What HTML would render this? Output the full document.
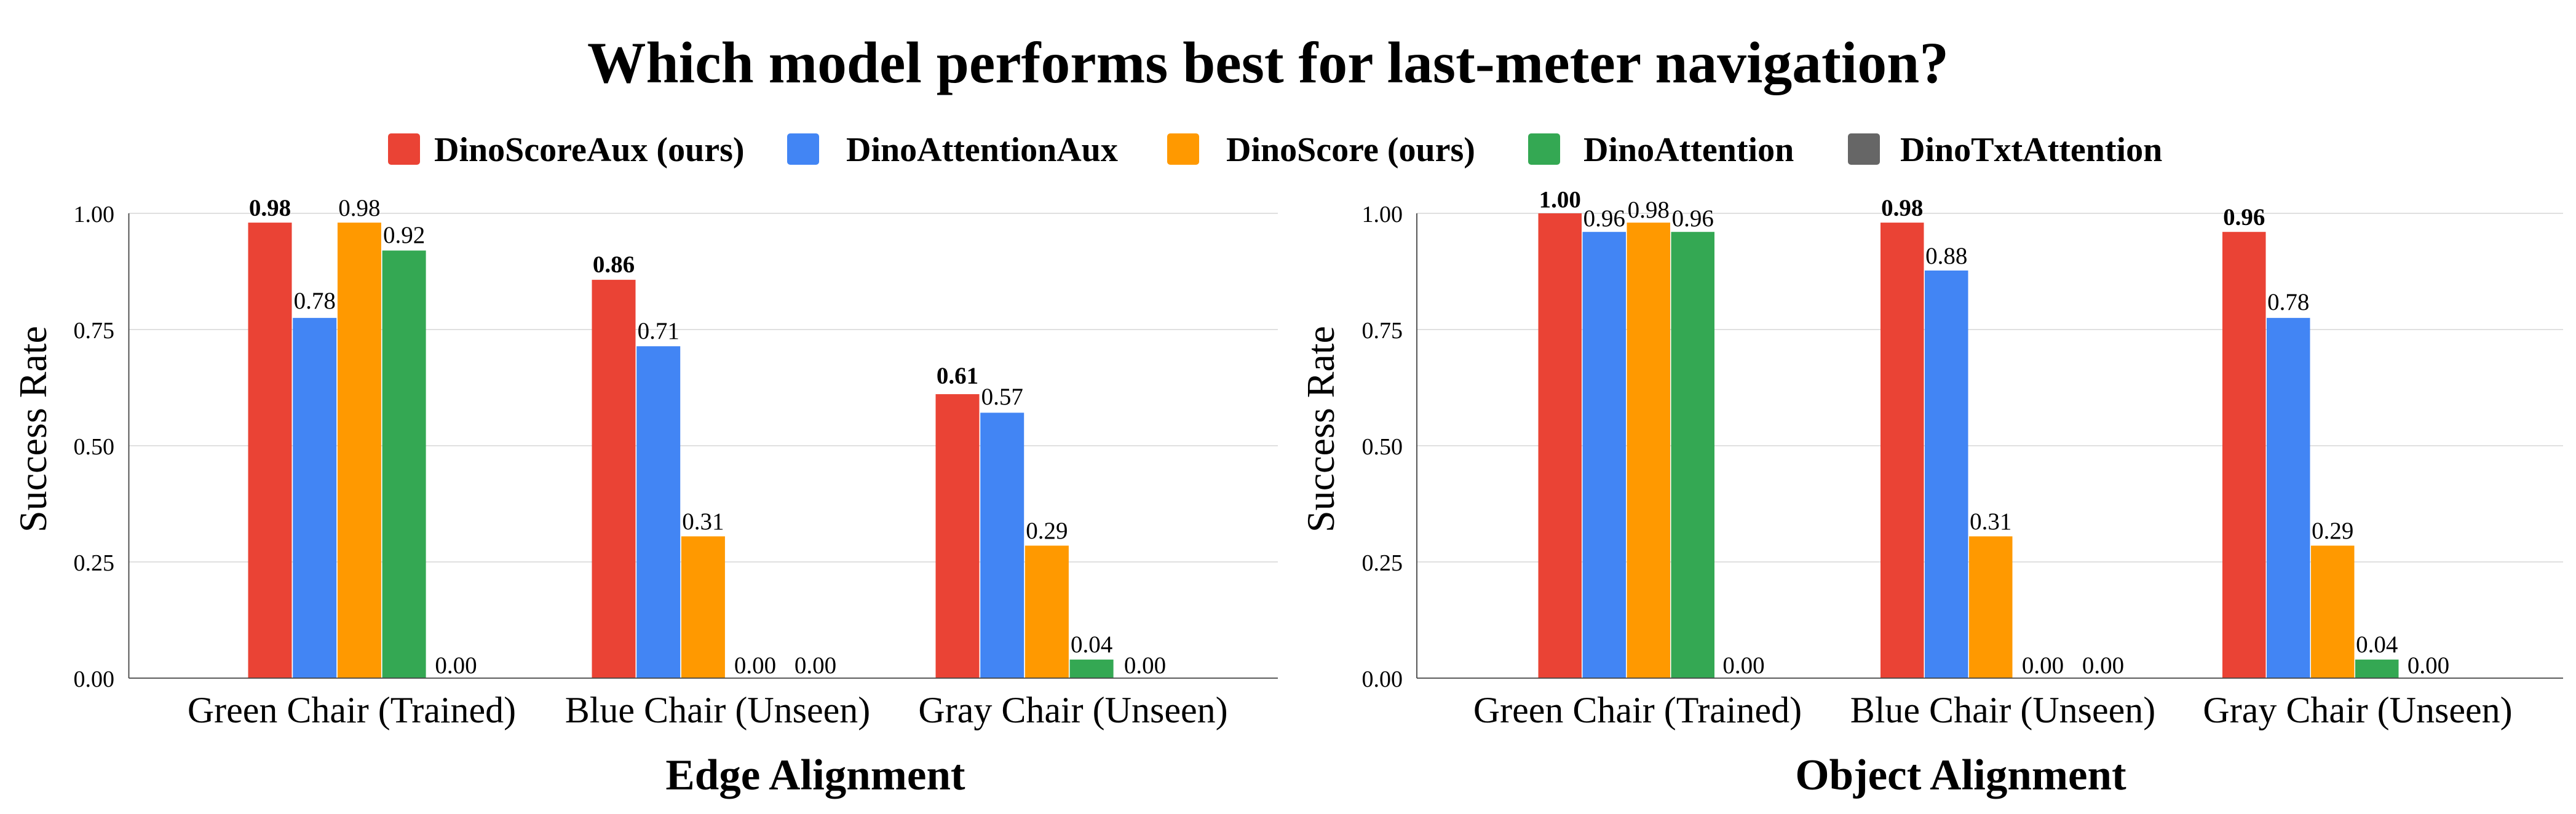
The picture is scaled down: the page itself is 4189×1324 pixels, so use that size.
<!DOCTYPE html>
<html>
<head>
<meta charset="utf-8">
<style>
  html,body{margin:0;padding:0;background:#fff;}
  body{width:4189px;height:1324px;overflow:hidden;}
  svg{display:block;}
  text{font-family:"Liberation Serif","Times New Roman",serif;fill:#000;}
  .tick{font-size:38px;text-anchor:end;}
  .dl{font-size:39px;text-anchor:middle;}
  .dlb{font-size:39px;text-anchor:middle;font-weight:bold;}
  .cat{font-size:60px;text-anchor:middle;}
  .axt{font-size:71px;text-anchor:middle;font-weight:bold;}
  .yt{font-size:64px;text-anchor:middle;}
  .leg{font-size:56px;font-weight:bold;}
  .grid{stroke:#d6d6d6;stroke-width:1.6;}
  .axis{stroke:#444;stroke-width:1.8;}
</style>
</head>
<body>
<svg width="4189" height="1324" viewBox="0 0 4189 1324" xmlns="http://www.w3.org/2000/svg">
  <rect x="0" y="0" width="4189" height="1324" fill="#fff"/>

  <!-- Title -->
  <text x="2062" y="134" style="font-size:95.5px;font-weight:bold;text-anchor:middle;">Which model performs best for last-meter navigation?</text>

  <!-- Legend -->
  <rect x="631" y="217" width="52" height="51" rx="5" fill="#EA4335"/>
  <text class="leg" x="706" y="262">DinoScoreAux (ours)</text>
  <rect x="1280" y="217" width="52" height="51" rx="5" fill="#4285F4"/>
  <text class="leg" x="1376" y="262">DinoAttentionAux</text>
  <rect x="1898" y="217" width="52" height="51" rx="5" fill="#FF9900"/>
  <text class="leg" x="1994" y="262">DinoScore (ours)</text>
  <rect x="2485" y="217" width="52" height="51" rx="5" fill="#34A853"/>
  <text class="leg" x="2575" y="262">DinoAttention</text>
  <rect x="3005" y="217" width="52" height="51" rx="5" fill="#666666"/>
  <text class="leg" x="3090" y="262">DinoTxtAttention</text>

  <!-- ================= LEFT CHART ================= -->
  <!-- gridlines -->
  <line class="grid" x1="209.5" y1="347" x2="2078" y2="347"/>
  <line class="grid" x1="209.5" y1="536" x2="2078" y2="536"/>
  <line class="grid" x1="209.5" y1="725" x2="2078" y2="725"/>
  <line class="grid" x1="209.5" y1="914" x2="2078" y2="914"/>
  <!-- tick labels -->
  <text class="tick" x="186" y="361">1.00</text>
  <text class="tick" x="186" y="550">0.75</text>
  <text class="tick" x="186" y="739">0.50</text>
  <text class="tick" x="186" y="928">0.25</text>
  <text class="tick" x="186" y="1117">0.00</text>
  <!-- y title -->
  <text class="yt" transform="translate(75,698) rotate(-90)">Success Rate</text>

  <!-- bars group 1 -->
  <rect x="403.5" y="362.1" width="71" height="740.9" fill="#EA4335"/>
  <rect x="476.2" y="517.1" width="71" height="585.9" fill="#4285F4"/>
  <rect x="548.9" y="362.1" width="71" height="740.9" fill="#FF9900"/>
  <rect x="621.6" y="407.5" width="71" height="695.5" fill="#34A853"/>
  <!-- bars group 2 -->
  <rect x="962.5" y="455.1" width="71" height="647.9" fill="#EA4335"/>
  <rect x="1035.2" y="563.2" width="71" height="539.8" fill="#4285F4"/>
  <rect x="1107.9" y="872.4" width="71" height="230.6" fill="#FF9900"/>
  <!-- bars group 3 -->
  <rect x="1521.5" y="641.1" width="71" height="461.9" fill="#EA4335"/>
  <rect x="1594.2" y="671.3" width="71" height="431.7" fill="#4285F4"/>
  <rect x="1666.9" y="887.5" width="71" height="215.5" fill="#FF9900"/>
  <rect x="1739.6" y="1072.8" width="71" height="30.2" fill="#34A853"/>

  <!-- axes -->
  <line class="axis" x1="209.5" y1="347" x2="209.5" y2="1103"/>
  <line class="axis" x1="209.5" y1="1103" x2="2078" y2="1103"/>

  <!-- data labels -->
  <text class="dlb" x="439" y="351">0.98</text>
  <text class="dl" x="511.7" y="502">0.78</text>
  <text class="dl" x="584.4" y="351">0.98</text>
  <text class="dl" x="657.1" y="395">0.92</text>
  <text class="dl" x="741.5" y="1095">0.00</text>

  <text class="dlb" x="998" y="443">0.86</text>
  <text class="dl" x="1070.7" y="551">0.71</text>
  <text class="dl" x="1143.4" y="861">0.31</text>
  <text class="dl" x="1228" y="1095">0.00</text>
  <text class="dl" x="1326" y="1095">0.00</text>

  <text class="dlb" x="1557" y="624">0.61</text>
  <text class="dl" x="1629.7" y="658">0.57</text>
  <text class="dl" x="1702.4" y="876">0.29</text>
  <text class="dl" x="1775.1" y="1061">0.04</text>
  <text class="dl" x="1862" y="1095">0.00</text>

  <!-- category labels -->
  <text class="cat" x="572" y="1175">Green Chair (Trained)</text>
  <text class="cat" x="1167" y="1175">Blue Chair (Unseen)</text>
  <text class="cat" x="1745" y="1175">Gray Chair (Unseen)</text>
  <!-- x title -->
  <text class="axt" x="1326" y="1284">Edge Alignment</text>

  <!-- ================= RIGHT CHART ================= -->
  <line class="grid" x1="2304" y1="347" x2="4168" y2="347"/>
  <line class="grid" x1="2304" y1="536" x2="4168" y2="536"/>
  <line class="grid" x1="2304" y1="725" x2="4168" y2="725"/>
  <line class="grid" x1="2304" y1="914" x2="4168" y2="914"/>
  <text class="tick" x="2281" y="361">1.00</text>
  <text class="tick" x="2281" y="550">0.75</text>
  <text class="tick" x="2281" y="739">0.50</text>
  <text class="tick" x="2281" y="928">0.25</text>
  <text class="tick" x="2281" y="1117">0.00</text>
  <text class="yt" transform="translate(2169,698) rotate(-90)">Success Rate</text>

  <!-- bars group 1 -->
  <rect x="2501.5" y="347" width="70.5" height="756" fill="#EA4335"/>
  <rect x="2573.5" y="377.2" width="70.5" height="725.8" fill="#4285F4"/>
  <rect x="2645.5" y="362.1" width="70.5" height="740.9" fill="#FF9900"/>
  <rect x="2717.5" y="377.2" width="70.5" height="725.8" fill="#34A853"/>
  <!-- bars group 2 -->
  <rect x="3058" y="362.1" width="70.5" height="740.9" fill="#EA4335"/>
  <rect x="3130" y="440" width="70.5" height="663" fill="#4285F4"/>
  <rect x="3202" y="872.4" width="70.5" height="230.6" fill="#FF9900"/>
  <!-- bars group 3 -->
  <rect x="3614" y="377.2" width="70.5" height="725.8" fill="#EA4335"/>
  <rect x="3686" y="517.1" width="70.5" height="585.9" fill="#4285F4"/>
  <rect x="3758" y="887.5" width="70.5" height="215.5" fill="#FF9900"/>
  <rect x="3830" y="1072.8" width="70.5" height="30.2" fill="#34A853"/>

  <line class="axis" x1="2304" y1="347" x2="2304" y2="1103"/>
  <line class="axis" x1="2304" y1="1103" x2="4168" y2="1103"/>

  <!-- data labels -->
  <text class="dlb" x="2536.75" y="337.5">1.00</text>
  <text class="dl" x="2608.75" y="368">0.96</text>
  <text class="dl" x="2680.75" y="354">0.98</text>
  <text class="dl" x="2752.75" y="368">0.96</text>
  <text class="dl" x="2835.5" y="1095">0.00</text>

  <text class="dlb" x="3093.25" y="351">0.98</text>
  <text class="dl" x="3165.25" y="429">0.88</text>
  <text class="dl" x="3237.25" y="861">0.31</text>
  <text class="dl" x="3322" y="1095">0.00</text>
  <text class="dl" x="3420" y="1095">0.00</text>

  <text class="dlb" x="3649.25" y="366">0.96</text>
  <text class="dl" x="3721.25" y="504">0.78</text>
  <text class="dl" x="3793.25" y="876">0.29</text>
  <text class="dl" x="3865.25" y="1061">0.04</text>
  <text class="dl" x="3949" y="1095">0.00</text>

  <text class="cat" x="2663" y="1175">Green Chair (Trained)</text>
  <text class="cat" x="3257" y="1175">Blue Chair (Unseen)</text>
  <text class="cat" x="3834" y="1175">Gray Chair (Unseen)</text>
  <text class="axt" x="3188.5" y="1284">Object Alignment</text>
</svg>
</body>
</html>
